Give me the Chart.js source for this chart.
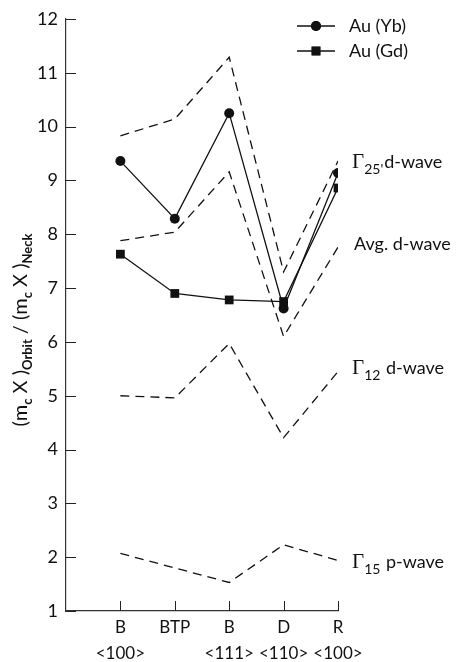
<!DOCTYPE html>
<html>
<head>
<meta charset="utf-8">
<script src="https://cdn.jsdelivr.net/npm/chart.js@4.4.0/dist/chart.umd.min.js"></script>
<style>
  body { margin: 0; background: #fff; }
  canvas { display: block; }
</style>
</head>
<body>
<canvas id="grafico" width="467" height="662"></canvas>
<script>
/* Datos */
const posiciones = [1, 2, 3, 4, 5];
const puntos = ['B', 'BTP', 'B', 'D', 'R'];
const direcciones = ['<100>', '', '<111>', '<110>', '<100>'];
const yTicks = [1, 2, 3, 4, 5, 6, 7, 8, 9, 10, 11, 12];

const auYb = [9.36, 8.29, 10.25, 6.62, 9.14];
const auGd = [7.63, 6.90, 6.78, 6.75, 8.86];

const gamma25 = [9.83, 10.14, 11.29, 7.30, 9.36];
const avgD = [7.88, 8.04, 9.16, 6.10, 7.76];
const gamma12 = [5.00, 4.96, 5.97, 4.22, 5.45];
const gamma15 = [2.07, 1.80, 1.53, 2.23, 1.94];

const pts = (ys) => ys.map((y, i) => ({ x: posiciones[i], y }));

const FUENTE = 'Lato, "DejaVu Sans", sans-serif';

function dashed(label, ys) {
  return {
    label, data: pts(ys), showLine: true, borderColor: '#111',
    borderWidth: 1.3, borderDash: [9, 6], pointRadius: 0, tension: 0
  };
}

/* Textos extra: ticks hacia dentro, leyenda, etiquetas y titulo del eje */
const extras = {
  id: 'extras',
  afterDraw(chart) {
    const { ctx, chartArea: a, scales } = chart;
    const xs = scales.x, ys = scales.y;
    ctx.save();
    ctx.strokeStyle = '#222';
    ctx.lineWidth = 1;
    yTicks.forEach(v => {
      const py = Math.round(ys.getPixelForValue(v)) + 0.5;
      ctx.beginPath(); ctx.moveTo(a.left, py); ctx.lineTo(a.left + 10, py); ctx.stroke();
    });
    posiciones.forEach(v => {
      const px = Math.round(xs.getPixelForValue(v)) + 0.5;
      ctx.beginPath(); ctx.moveTo(px, a.bottom); ctx.lineTo(px, a.bottom - 10); ctx.stroke();
    });

    /* Leyenda */
    const filas = [
      { txt: 'Au (Yb)', ds: chart.data.datasets[4], y: 26 },
      { txt: 'Au (Gd)', ds: chart.data.datasets[5], y: 51 }
    ];
    filas.forEach(f => {
      ctx.strokeStyle = '#111'; ctx.lineWidth = 1.3;
      ctx.beginPath(); ctx.moveTo(297, f.y); ctx.lineTo(335, f.y); ctx.stroke();
      ctx.fillStyle = '#111';
      Chart.helpers.drawPoint(ctx, { pointStyle: f.ds.pointStyle, radius: f.ds.pointRadius, borderWidth: 0 }, 316, f.y);
      ctx.fill();
      ctx.font = '18px ' + FUENTE;
      ctx.textBaseline = 'middle'; ctx.textAlign = 'left';
      ctx.fillText(f.txt, 349, f.y);
    });

    /* Etiquetas de las curvas */
    const etiquetas = [
      { g: true, sub: "25'", txt: 'd-wave', ds: 0, dy: 1 },
      { g: false, sub: '', txt: 'Avg. d-wave', ds: 1, dy: -3 },
      { g: true, sub: '12', txt: ' d-wave', ds: 2, dy: -3 },
      { g: true, sub: '15', txt: ' p-wave', ds: 3, dy: 2 }
    ];
    etiquetas.forEach(e => {
      const serie = chart.data.datasets[e.ds].data;
      const y = ys.getPixelForValue(serie[serie.length - 1].y) + e.dy;
      let x = 352;
      ctx.fillStyle = '#111';
      ctx.textBaseline = 'middle'; ctx.textAlign = 'left';
      if (e.g) {
        ctx.font = '21px "Liberation Serif", serif';
        ctx.fillText('\u0393', x, y);
        x += ctx.measureText('\u0393').width;
        ctx.font = '14px ' + FUENTE;
        ctx.fillText(e.sub, x, y + 7);
        x += ctx.measureText(e.sub).width + 1;
      } else {
        x += 2;
      }
      ctx.font = '18px ' + FUENTE;
      ctx.fillText(e.txt, x, y);
    });

    /* Titulo del eje y con subindices */
    const partes = [
      ['(m', 0], ['c', 1], [' X )', 0], ['Orbit', 1], [' / (m', 0], ['c', 1], [' X )', 0], ['Neck', 1]
    ];
    const fMain = '20px ' + FUENTE, fSub = 'bold 13px ' + FUENTE;
    let total = 0;
    partes.forEach(p => { ctx.font = p[1] ? fSub : fMain; total += ctx.measureText(p[0]).width; });
    ctx.translate(21, 330);
    ctx.rotate(-Math.PI / 2);
    let cx = -total / 2;
    ctx.textBaseline = 'middle'; ctx.textAlign = 'left';
    partes.forEach(p => {
      ctx.font = p[1] ? fSub : fMain;
      ctx.fillText(p[0], cx, p[1] ? 7 : 0);
      cx += ctx.measureText(p[0]).width;
    });
    ctx.restore();
  }
};

const config = {
  type: 'scatter',
  data: {
    datasets: [
      dashed('Γ25\' d-wave', gamma25),
      dashed('Avg. d-wave', avgD),
      dashed('Γ12 d-wave', gamma12),
      dashed('Γ15 p-wave', gamma15),
      {
        label: 'Au (Yb)', data: pts(auYb), showLine: true, borderColor: '#111',
        borderWidth: 1.3, pointStyle: 'circle', pointRadius: 5,
        pointBackgroundColor: '#111', pointBorderWidth: 0, tension: 0
      },
      {
        label: 'Au (Gd)', data: pts(auGd), showLine: true, borderColor: '#111',
        borderWidth: 1.3, pointStyle: 'rect', pointRadius: 6.2,
        pointBackgroundColor: '#111', pointBorderWidth: 0, tension: 0
      }
    ]
  },
  options: {
    responsive: false,
    animation: false,
    layout: { padding: { left: 0, right: 129, top: 19, bottom: 0 } },
    plugins: { legend: { display: false }, tooltip: { enabled: false } },
    scales: {
      x: {
        type: 'linear', min: 0, max: 5,
        grid: { display: false, drawTicks: false },
        border: { display: true, color: '#333', width: 1.2 },
        afterFit(scale) { scale.height = 51; },
        ticks: {
          stepSize: 1, padding: 4, color: '#111', maxRotation: 0, autoSkip: false,
          font: { family: FUENTE, size: 17, lineHeight: 1.5 },
          callback: (v) => v >= 1 ? [puntos[v - 1], direcciones[v - 1]] : ''
        }
      },
      y: {
        min: 1, max: 12,
        grid: { display: false, drawTicks: false },
        border: { display: true, color: '#333', width: 1.2 },
        afterFit(scale) { scale.width = 66; },
        ticks: {
          stepSize: 1, padding: 8, color: '#111',
          font: { family: FUENTE, size: 18 }
        }
      }
    }
  },
  plugins: [extras]
};

new Chart(document.getElementById('grafico').getContext('2d'), config);
</script>
</body>
</html>
